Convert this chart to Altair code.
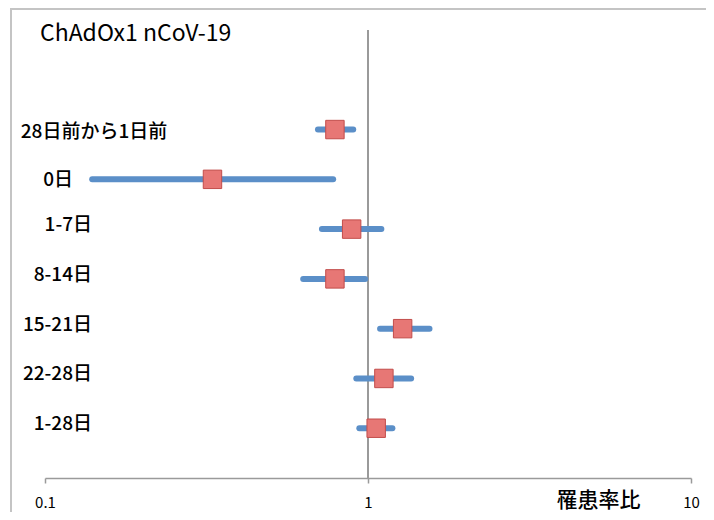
import altair as alt
import pandas as pd

labels = ["28日前から1日前", "0日", "1-7日", "8-14日", "15-21日", "22-28日", "1-28日"]
irr = [0.79, 0.33, 0.89, 0.79, 1.28, 1.12, 1.06]
lower = [0.70, 0.14, 0.72, 0.63, 1.09, 0.92, 0.94]
upper = [0.90, 0.78, 1.10, 0.98, 1.55, 1.36, 1.19]
x_ticks = [0.1, 1, 10]
chart_title = "ChAdOx1 nCoV-19"

df = pd.DataFrame({"label": labels, "irr": irr, "lower": lower, "upper": upper})

FONT = "Noto Sans CJK JP"
xscale = alt.Scale(type="log", domain=[0.1, 10])
yscale = alt.Scale(domain=[-1, 8], reverse=True)

base = alt.Chart(df).transform_window(row="row_number()")

xaxis = alt.Axis(
    values=x_ticks, format="~g", title="罹患率比", grid=False,
    tickSize=5, tickColor="#9a9a9a", tickWidth=1.5,
    domainColor="#9a9a9a", domainWidth=1.5,
    labelFontSize=15, labelFont=FONT, labelColor="#000", labelPadding=12,
    labelFlush=False,
    titleFontSize=21, titleFont=FONT, titleFontWeight=500, titleColor="#000",
    titleX=595, titleY=22, titleAlign="right", titleBaseline="middle",
)

one = base.transform_filter("datum.row == 1")

ref = one.mark_rule(color="#9a9a9a", strokeWidth=2).encode(
    x=alt.datum(1, scale=xscale, type="quantitative", axis=xaxis)
)

ci = base.mark_rule(color="#5B8FC8", strokeWidth=6, strokeCap="round").encode(
    x=alt.X("lower:Q", scale=xscale, axis=xaxis),
    x2="upper:Q",
    y=alt.Y("row:Q", scale=yscale, axis=None),
)

pts = base.mark_point(shape="square", size=340, filled=True, fill="#E77775",
                      stroke="#C24D4B", strokeWidth=1, opacity=1).encode(
    x=alt.X("irr:Q", scale=xscale, axis=xaxis),
    y=alt.Y("row:Q", scale=yscale, axis=None),
)

txt_kw = dict(baseline="middle", font=FONT, fontSize=19, fontWeight=500, color="#000")

lab_first = base.transform_filter("datum.row == 1").mark_text(
    align="center", dy=2, **txt_kw
).encode(x=alt.value(49), y=alt.Y("row:Q", scale=yscale, axis=None), text="label:N")

lab_zero = base.transform_filter("datum.row == 2").mark_text(
    align="right", dy=1, **txt_kw
).encode(x=alt.value(28), y=alt.Y("row:Q", scale=yscale, axis=None), text="label:N")

lab_rest = base.transform_filter("datum.row > 2").mark_text(
    align="right", dy=-4, **txt_kw
).encode(x=alt.value(47), y=alt.Y("row:Q", scale=yscale, axis=None), text="label:N")

title_txt = one.mark_text(
    align="left", baseline="middle", font=FONT, fontSize=23, color="#000"
).encode(x=alt.value(-5), y=alt.value(4), text=alt.value(chart_title))

frame_left = one.mark_rule(color="#c4c4c4", strokeWidth=2).encode(
    x=alt.value(-34), y=alt.value(-22), y2=alt.value(500)
)
frame_top = one.mark_rule(color="#c4c4c4", strokeWidth=2).encode(
    x=alt.value(-34), x2=alt.value(700), y=alt.value(-21)
)

chart = alt.layer(frame_left, frame_top, ref, ci, pts, lab_first, lab_zero, lab_rest,
                  title_txt).properties(
    width=646, height=448,
    autosize=alt.AutoSizeParams(type="none"),
    padding={"left": 37, "top": 22, "right": 15, "bottom": 34},
).configure_view(stroke=None)

chart.save("out.html", embed_options={"renderer": "svg", "actions": False})
